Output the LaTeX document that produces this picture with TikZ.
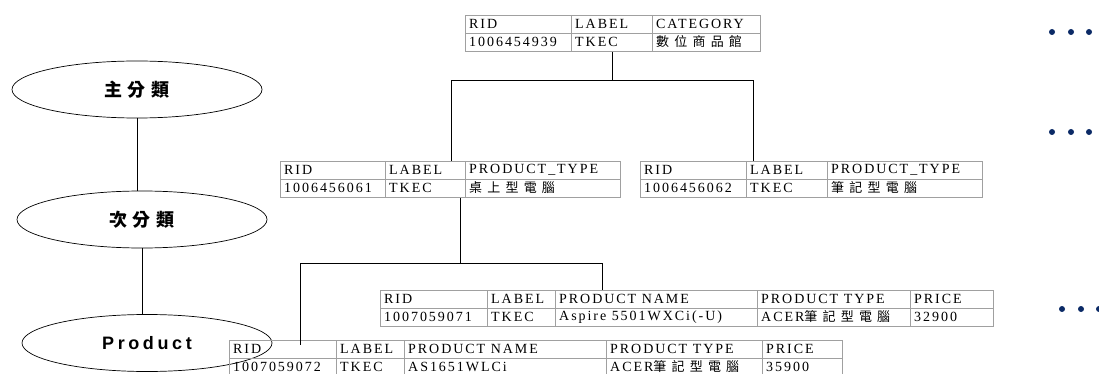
\documentclass[tikz,border=0pt]{standalone}
\usepackage{fontspec}
\usetikzlibrary{shapes.geometric,calc}
\newfontfamily\tbl[LetterSpace=14]{Liberation Serif}
\newfontfamily\tblcjk[LetterSpace=40]{Noto Sans CJK TC}
\newfontfamily\ecjk[LetterSpace=30]{Noto Sans CJK TC}
\newfontfamily\esans[LetterSpace=20]{Liberation Sans}
\definecolor{gridgray}{HTML}{A0A0A0}
\definecolor{dotblue}{HTML}{0B2A66}
\newcommand\mktable[5]{% name, x0, x1, ytop, inner column xs
  \node[draw=gridgray, line width=0.8pt, anchor=north west, inner sep=0pt,
        minimum width={(#3-#2)*1pt}, minimum height=36pt] (#1) at (#2,#4) {};
  \draw[gridgray, line width=0.8pt] (#2,#4+18) -- (#3,#4+18);
  \foreach \c in {#5} \draw[gridgray, line width=0.8pt] (\c,#4) -- (\c,#4+36);
}
\tikzset{
  cell/.style={anchor=west, inner sep=0pt, font=\tbl\fontsize{14}{15}\selectfont, text=black},
  elabel/.style={ellipse, draw, line width=0.7pt, minimum width=250pt, minimum height=57pt, inner sep=0pt},
  link/.style={line width=0.9pt}
}
\newcommand\cj[1]{{\tblcjk\fontsize{13}{14}\selectfont #1}}
\begin{document}
\begin{tikzpicture}[x=1pt,y=-1pt]
\useasboundingbox (0,0) rectangle (1099,374);

% ellipses
\node[elabel] (e1) at (137,89.5) {\ecjk\bfseries\fontsize{18}{20}\selectfont 主分類};
\node[elabel] (e2) at (142,219.5) {\ecjk\bfseries\fontsize{18}{20}\selectfont 次分類};
\node[elabel] (e3) at (147,343) {\esans\bfseries\fontsize{18}{20}\selectfont Product};
\draw[link] (e1.south) -- (e1.south |- e2.north);
\draw[link] (e2.south) -- (e2.south |- e3.north);

% table 1
\mktable{t1}{465}{760}{15}{571,652}
\node[cell] (t1a) at (469,24) {RID};
\node[cell] (t1b) at (575,24) {LABEL};
\node[cell] (t1c) at (656,24) {CATEGORY};
\node[cell] (t1d) at (469,42) {1006454939};
\node[cell] (t1e) at (575,42) {TKEC};
\node[cell] (t1f) at (656,42) {\cj{數位商品館}};

% table 2
\mktable{t2}{280}{620}{161}{385,465}
\node[cell] (t2a) at (284,170) {RID};
\node[cell] (t2b) at (389,170) {LABEL};
\node[cell] (t2c) at (469,170) {PRODUCT\_TYPE};
\node[cell] (t2d) at (284,188) {1006456061};
\node[cell] (t2e) at (389,188) {TKEC};
\node[cell] (t2f) at (469,188) {\cj{桌上型電腦}};

% table 3
\mktable{t3}{640}{982}{161}{746,827}
\node[cell] (t3a) at (644,170) {RID};
\node[cell] (t3b) at (750,170) {LABEL};
\node[cell] (t3c) at (831,170) {PRODUCT\_TYPE};
\node[cell] (t3d) at (644,188) {1006456062};
\node[cell] (t3e) at (750,188) {TKEC};
\node[cell] (t3f) at (831,188) {\cj{筆記型電腦}};

% table 4
\mktable{t4}{380}{993}{290}{487,555,757,910}
\node[cell] (t4a) at (384,299) {RID};
\node[cell] (t4b) at (491,299) {LABEL};
\node[cell] (t4c) at (559,299) {PRODUCT NAME};
\node[cell] (t4d) at (761,299) {PRODUCT TYPE};
\node[cell] (t4e) at (914,299) {PRICE};
\node[cell] (t4f) at (384,317) {1007059071};
\node[cell] (t4g) at (491,317) {TKEC};
\node[cell] (t4h) at (559,317) {Aspire 5501WXCi(-U)};
\node[cell] (t4i) at (761,317) {ACER\cj{筆記型電腦}};
\node[cell] (t4j) at (914,317) {32900};

% table 5
\mktable{t5}{229}{842}{340}{336,404,606,762}
\node[cell] (t5a) at (233,349) {RID};
\node[cell] (t5b) at (340,349) {LABEL};
\node[cell] (t5c) at (408,349) {PRODUCT NAME};
\node[cell] (t5d) at (610,349) {PRODUCT TYPE};
\node[cell] (t5e) at (766,349) {PRICE};
\node[cell] (t5f) at (233,367) {1007059072};
\node[cell] (t5g) at (340,367) {TKEC};
\node[cell] (t5h) at (408,367) {AS1651WLCi};
\node[cell] (t5i) at (610,367) {ACER\cj{筆記型電腦}};
\node[cell] (t5j) at (766,367) {35900};

% tree connectors
\coordinate (j1) at (612,80);
\coordinate (j2) at (460,263);
\draw[link] (j1 |- t1.south) -- (j1);
\draw[link] (j1) -- (j1 -| 451,0) -- (451,0 |- t2.north);
\draw[link] (j1) -- (j1 -| 753,0) -- (753,0 |- t3.north);
\draw[link] (j2 |- t2.south) -- (j2);
\draw[link] (j2) -- (j2 -| 602,0) -- (602,0 |- t4.north);
\draw[link] (j2) -- (j2 -| 300,0) -- ($(300,0 |- t5.north)+(0,5)$);

% ellipsis dots
\foreach \x/\y in {1052/32,1071/32,1089/32,1052/132,1071/132,1089/132,1062/309,1081/309,1099/309}
  \fill[dotblue] (\x,\y) circle (3);
\end{tikzpicture}
\end{document}
